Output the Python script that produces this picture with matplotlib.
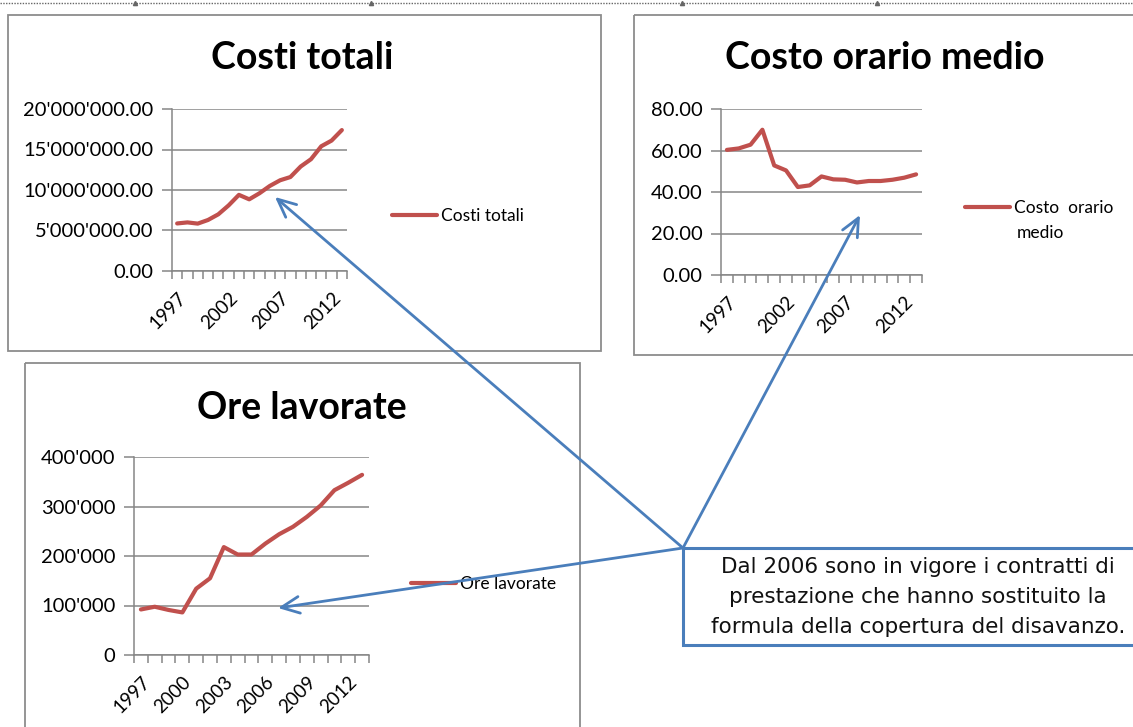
import numpy as np
import matplotlib
matplotlib.use("Agg")
import matplotlib.pyplot as plt
from matplotlib.patches import Rectangle
from matplotlib.ticker import FuncFormatter, MultipleLocator

# ---------------- data ----------------
years = list(range(1997, 2014))

costi_totali = [5.87e6, 6.0e6, 5.85e6, 6.3e6, 7.0e6, 8.1e6, 9.4e6, 8.85e6, 9.6e6,
                10.5e6, 11.2e6, 11.6e6, 12.9e6, 13.8e6, 15.4e6, 16.1e6, 17.4e6]

costo_orario = [60.3, 61.0, 62.8, 70.0, 52.8, 50.4, 42.4, 43.2, 47.5,
                46.1, 45.9, 44.6, 45.3, 45.3, 45.9, 46.9, 48.5]

ore_lavorate = [92000, 97500, 91000, 86000, 134000, 155000, 218000, 203000, 203000,
                225000, 244000, 259000, 279000, 302000, 333000, 348000, 364000]

note = ("Dal 2006 sono in vigore i contratti di\n"
        "prestazione che hanno sostituito la\n"
        "formula della copertura del disavanzo.")

# ---------------- style ----------------
W, H = 1133, 727
RED = "#C0504D"
BLUE = "#4A7EBB"
GRID = "#868686"
FONT = "Lato"

fig = plt.figure(figsize=(W / 100, H / 100), dpi=100)
fig.patch.set_facecolor("white")


def rect(x0, y0, x1, y1):
    return [x0 / W, 1 - y1 / H, (x1 - x0) / W, (y1 - y0) / H]


# background layer: chart frames + dotted top line
bg = fig.add_axes([0, 0, 1, 1], zorder=0)
bg.set_xlim(0, W)
bg.set_ylim(H, 0)
bg.axis("off")
for (x0, y0, x1, y1) in [(8, 15, 601, 351), (634, 15, 1140, 355), (25, 363, 580, 740)]:
    bg.add_patch(Rectangle((x0, y0), x1 - x0, y1 - y0, fill=False,
                           edgecolor="#8C8C8C", lw=1.3))
bg.plot([0, W], [3, 3], ls=(0, (1, 1)), color="#666666", lw=1)
bg.plot([135, 371, 682, 877], [3, 3, 3, 3], ls="none", marker="^",
        ms=3, color="#666666")


def make_chart(box, values, ymax, ystep, fmt, title, title_xy, label, leg_xy,
               label_step):
    ax = fig.add_axes(rect(*box), zorder=1)
    n = len(values)
    x = np.arange(n)
    ax.plot(x, values, color=RED, lw=3.0, solid_joinstyle="round",
            solid_capstyle="round", label=label)
    ax.set_xlim(-0.5, n - 0.5)
    ax.set_ylim(0, ymax)
    ax.yaxis.set_major_locator(MultipleLocator(ystep))
    ax.yaxis.set_major_formatter(FuncFormatter(fmt))
    ax.yaxis.grid(True, color=GRID, lw=1.1)
    ax.set_axisbelow(True)
    for s in ["top", "right"]:
        ax.spines[s].set_visible(False)
    for s in ["left", "bottom"]:
        ax.spines[s].set_color(GRID)
        ax.spines[s].set_linewidth(1.1)
    # tick marks between categories, labels on categories
    ax.set_xticks(np.arange(n + 1) - 0.5)
    ax.set_xticklabels([])
    lab_idx = list(range(0, n, label_step))
    ax.set_xticks(lab_idx, minor=True)
    ax.set_xticklabels([str(years[i]) for i in lab_idx], minor=True,
                       rotation=45, ha="right", rotation_mode="anchor",
                       fontsize=13.5, family=FONT)
    ax.tick_params(axis="x", which="major", length=6, width=1.1, color=GRID,
                   direction="out")
    ax.tick_params(axis="x", which="minor", length=0, pad=13)
    ax.tick_params(axis="y", length=7, width=1.1, color=GRID, pad=6.5,
                   labelsize=14.5)
    for t in ax.get_yticklabels():
        t.set_family(FONT)
    fig.text(title_xy[0] / W, 1 - title_xy[1] / H, title, ha="center",
             va="center", fontsize=27, fontweight="bold", family=FONT)
    ax.legend(loc="center left", bbox_to_anchor=(leg_xy[0] / W, 1 - leg_xy[1] / H),
              bbox_transform=fig.transFigure, frameon=False, handlelength=2.6,
              handletextpad=0.25, borderaxespad=0, borderpad=0,
              prop={"family": FONT, "size": 12.5})
    return ax


make_chart((172, 109, 347, 271), costi_totali, 20e6, 5e6,
           lambda v, p: f"{v:,.2f}".replace(",", "'"),
           "Costi totali", (302, 58), "Costi totali", (392, 216), 5)

make_chart((721, 109, 922, 275), costo_orario, 80, 20,
           lambda v, p: f"{v:.2f}",
           "Costo orario medio", (885, 58), "Costo  orario", (965, 208), 5)
# second line of the wrapped legend entry
fig.text(1017 / W, 1 - 233 / H, "medio", ha="left", va="center",
         fontsize=12.5, family=FONT)

make_chart((134, 457, 369, 655), ore_lavorate, 400000, 100000,
           lambda v, p: f"{v:,.0f}".replace(",", "'"),
           "Ore lavorate", (302, 408), "Ore lavorate", (411, 584), 3)

# foreground layer: callout box and arrows
fg = fig.add_axes([0, 0, 1, 1], zorder=5)
fg.set_xlim(0, W)
fg.set_ylim(H, 0)
fg.axis("off")
fg.patch.set_alpha(0)

start = (683, 548)
for target in [(275, 197), (860, 215), (278, 608)]:
    fg.annotate("", xy=target, xytext=start,
                arrowprops=dict(arrowstyle="->,head_length=1.3,head_width=0.6",
                                color=BLUE, lw=2.0, shrinkA=0, shrinkB=0))

fg.add_patch(Rectangle((683, 548), 470, 97, facecolor="white",
                       edgecolor=BLUE, lw=2.2, zorder=6))
fg.text(918, 597, note, ha="center", va="center", fontsize=15.5,
        family="DejaVu Sans", color="#111111", linespacing=1.6, zorder=7)

fig.savefig("out.png", dpi=100)
